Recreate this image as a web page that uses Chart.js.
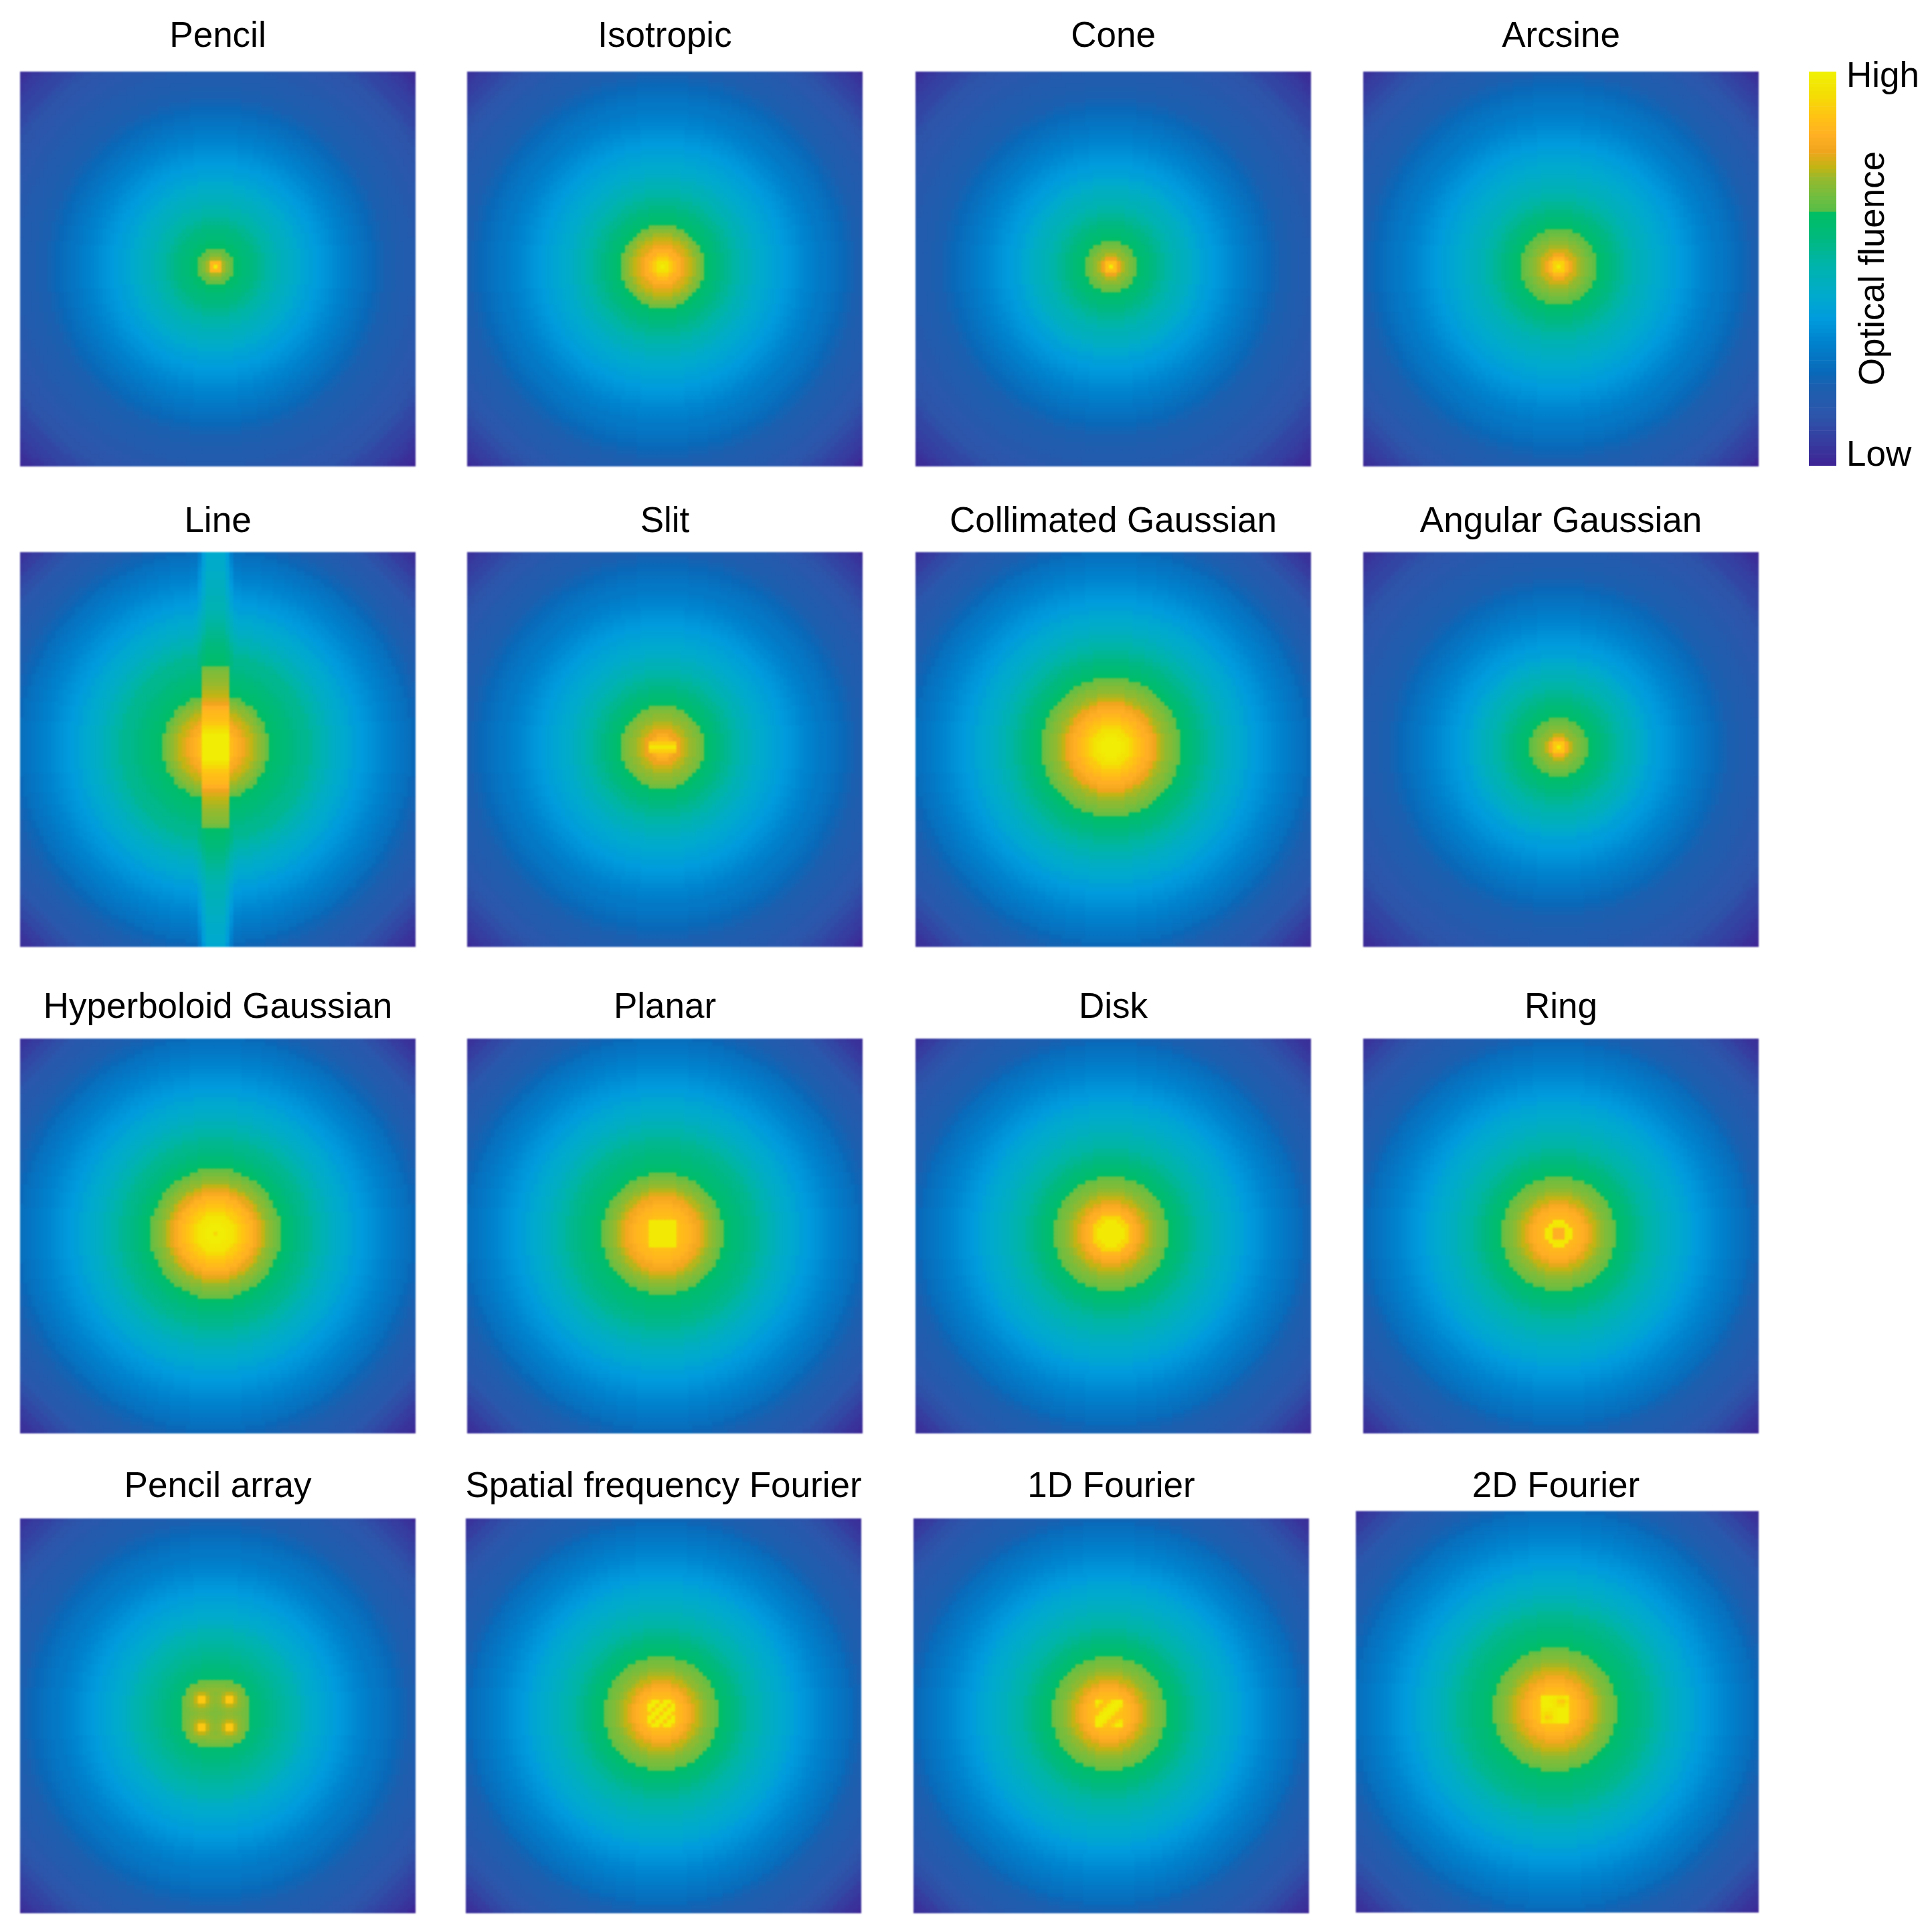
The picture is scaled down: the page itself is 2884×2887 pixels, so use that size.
<!DOCTYPE html>
<html lang="en">
<head>
  <meta charset="UTF-8">
  <title>Optical fluence by source type</title>
  <script src="https://cdn.jsdelivr.net/npm/chart.js"></script>
  <style>
    body { margin: 0; background: #fff; overflow: hidden; }
    canvas { position: absolute; }
    canvas.panel { filter: blur(1.2px); }
    .label {
      position: absolute; transform: translate(-50%, -50%);
      font: 53px/1 "Liberation Sans", Arial, sans-serif; color: #000; white-space: nowrap;
    }
    #fluence { left: 2796px; top: 401px; transform: translate(-50%, -50%) rotate(-90deg); }
  </style>
</head>
<body>
  <div id="fluence" class="label">Optical fluence</div>
  <script>
    const titles = ["Pencil", "Isotropic", "Cone", "Arcsine",
      "Line", "Slit", "Collimated Gaussian", "Angular Gaussian",
      "Hyperboloid Gaussian", "Planar", "Disk", "Ring",
      "Pencil array", "Spatial frequency Fourier", "1D Fourier", "2D Fourier"];
    const colorbarTicks = ["High", "Low"];

    // colour bar: position in % and colour there
    const cmapPos = [0, 12, 20, 23, 31, 37, 43, 51, 58, 64, 65, 68, 73, 76, 80, 84, 89, 94, 100];
    const cmapHex = ["#3e2696", "#2d55aa", "#1b60b0", "#0a68b8", "#0082cd", "#009bdc", "#00aacd", "#00b4aa", "#00b97d",
      "#00be64", "#5abe46", "#6ebe41", "#96b92d", "#c3b414", "#f0a51e", "#ffaf23", "#ffc314", "#f5dc05", "#f0f005"];

    // fluence in % by distance from the source, one value per ring (rings 0-23)
    const ringPencil = [99, 86, 74, 70, 67, 63, 62, 60, 59, 58, 57, 55, 54, 52, 51, 50, 48, 47, 46, 45, 44, 43, 41, 40];
    const ringIsotropic = [99, 96, 91, 87, 84, 81, 78, 76, 74, 71, 68, 63, 61, 60, 58, 57, 55, 54, 52, 51, 49, 48, 47, 45];
    const ringCone = [99, 88, 80, 75, 72, 69, 67, 63, 61, 60, 58, 57, 55, 54, 52, 51, 49, 48, 47, 46, 45, 43, 42, 40];
    const ringArcsine = [99, 92, 86, 81, 77, 74, 72, 70, 68, 66, 63, 61, 60, 58, 57, 55, 54, 52, 51, 49, 48, 47, 46, 45];
    const ringLine = [92, 91, 90, 89, 87, 85, 83, 81, 78, 76, 74, 72, 70, 67, 63, 62, 61, 60, 59, 58, 57, 56, 55, 55];
    const ringSlit = [90, 88, 86, 83, 80, 77, 75, 73, 72, 70, 68, 63, 61, 60, 58, 57, 55, 54, 52, 51, 49, 48, 47, 45];
    const ringCollimated = [99, 99, 99, 98, 96, 93, 90, 88, 86, 84, 82, 80, 76, 74, 72, 71, 69, 67, 63, 61, 60, 58, 57, 55];
    const ringAngular = [99, 90, 82, 76, 72, 70, 68, 66, 63, 61, 60, 58, 57, 55, 54, 52, 51, 49, 48, 47, 45, 44, 42, 40];
    const ringHyperboloid = [93, 99, 99, 98, 97, 94, 91, 89, 87, 85, 82, 79, 76, 73, 71, 69, 67, 63, 61, 60, 58, 57, 56, 55];
    const ringPlanar = [90, 90, 90, 89, 88, 87, 86, 85, 83, 81, 78, 75, 73, 71, 69, 67, 63, 61, 60, 59, 58, 57, 56, 55];
    const ringDisk = [98, 98, 98, 98, 93, 86, 84, 82, 79, 76, 74, 72, 70, 69, 67, 63, 61, 60, 58, 57, 55, 54, 52, 51];
    const ringRing = [84, 84, 97, 98, 86, 85, 84, 82, 79, 76, 74, 72, 70, 69, 67, 63, 61, 60, 58, 57, 55, 54, 52, 51];
    const ringPencilArray = [63, 63, 63, 63, 63, 63, 63, 62, 62, 61, 60, 59, 58, 57, 56, 55, 54, 53, 52, 51, 50, 49, 47, 45];
    const ringSpatial = [90, 90, 89, 88, 87, 86, 84, 82, 79, 76, 74, 72, 70, 69, 67, 63, 61, 60, 58, 57, 55, 54, 52, 51];
    const ring2D = [90, 90, 89, 89, 88, 87, 85, 83, 81, 78, 76, 74, 72, 70, 69, 67, 63, 61, 60, 59, 58, 57, 56, 55];

    // rings 24-71, four families depending on how much light the source puts in
    const outerLow = [39, 38, 37, 36, 35, 34, 33, 32, 31, 30, 29, 28, 27, 26, 25, 24, 23, 22, 21, 20, 20, 19, 18, 18, 17, 17,
      16, 15, 15, 14, 14, 13, 13, 12, 12, 11, 10, 9, 8, 8, 7, 6, 5, 4, 3, 2, 1, 0];
    const outerMid = [44, 43, 42, 41, 40, 39, 38, 37, 36, 35, 34, 33, 32, 31, 30, 29, 28, 28, 27, 26, 25, 24, 23, 22, 21, 20,
      19, 18, 18, 17, 16, 16, 15, 14, 14, 13, 12, 11, 10, 9, 8, 7, 6, 5, 4, 3, 1, 0];
    const outerUpper = [50, 49, 47, 46, 45, 44, 43, 42, 41, 40, 38, 37, 36, 35, 34, 33, 32, 31, 30, 29, 28, 27, 26, 25, 24, 22,
      21, 20, 19, 18, 18, 17, 16, 15, 15, 14, 13, 12, 11, 10, 9, 8, 6, 5, 4, 3, 2, 1];
    const outerHigh = [54, 52, 51, 49, 48, 46, 45, 44, 43, 42, 41, 39, 38, 37, 36, 35, 34, 33, 32, 31, 30, 29, 28, 27, 26, 25,
      23, 22, 21, 20, 19, 18, 17, 16, 15, 15, 14, 13, 11, 10, 9, 8, 6, 5, 4, 3, 2, 1];

    const panelRings = [ringPencil, ringIsotropic, ringCone, ringArcsine,
      ringLine, ringSlit, ringCollimated, ringAngular,
      ringHyperboloid, ringPlanar, ringDisk, ringRing,
      ringPencilArray, ringSpatial, ringSpatial, ring2D];
    const panelOuters = [outerLow, outerMid, outerLow, outerMid,
      outerHigh, outerMid, outerHigh, outerLow,
      outerHigh, outerHigh, outerUpper, outerUpper,
      outerMid, outerUpper, outerUpper, outerHigh];

    // Line source: values along the vertical stripe, by distance from centre
    const lineStripe = [99, 99, 99, 99, 96, 93, 90, 88, 87, 86, 84, 80, 78, 76, 75, 74, 73, 72, 71, 70, 68, 63, 62, 61, 60, 59,
      58, 57, 56, 55, 54, 53, 52, 51, 50, 49, 49, 48, 48, 47, 47, 46, 46, 45, 45, 44, 44, 44, 43, 43, 42];
    // how strong the stripe still is across its width, away from the core
    const stripeAcross = [1, 1, 1, 0.7, 0.3];
    const stripeCore = 21;

    // central cells that are not radial, % values, 0 = leave the ring value
    const cellsSlit = [
      [91, 91, 91, 91, 91, 91, 91],
      [97, 97, 97, 97, 97, 97, 97],
      [91, 91, 91, 91, 91, 91, 91]];
    const cellsPlanar = [
      [98, 98, 98, 98, 98, 98, 98],
      [98, 98, 98, 98, 98, 98, 98],
      [98, 98, 98, 98, 98, 98, 98],
      [98, 98, 98, 98, 98, 98, 98],
      [98, 98, 98, 98, 98, 98, 98],
      [98, 98, 98, 98, 98, 98, 98],
      [98, 98, 98, 98, 98, 98, 98]];
    const cellsSpatial = [
      [90, 99, 99, 90, 99, 99, 90],
      [99, 99, 90, 99, 99, 90, 99],
      [99, 90, 99, 99, 90, 99, 99],
      [90, 99, 99, 90, 99, 99, 90],
      [99, 99, 90, 99, 99, 90, 99],
      [99, 90, 99, 99, 90, 99, 99],
      [90, 99, 99, 90, 99, 99, 90]];
    const cells1D = [
      [99, 95, 88, 90, 97, 99, 99],
      [95, 88, 90, 97, 99, 99, 97],
      [88, 90, 97, 99, 99, 97, 90],
      [88, 97, 99, 99, 97, 90, 88],
      [97, 99, 99, 97, 90, 88, 88],
      [99, 99, 97, 90, 88, 92, 96],
      [99, 97, 90, 88, 92, 99, 99]];
    const cells2D = [
      [99, 99, 99, 98, 96, 96, 98],
      [99, 99, 98, 97, 91, 90, 95],
      [99, 99, 99, 97, 95, 94, 98],
      [98, 98, 97, 98, 99, 99, 99],
      [96, 94, 95, 98, 99, 99, 99],
      [95, 90, 92, 98, 99, 99, 99],
      [97, 95, 96, 98, 99, 99, 99]];
    const cellsPencilArray = [
      [0, 0, 0, 0, 68, 68, 68, 68, 68, 68, 68, 68, 68, 0, 0, 0, 0],
      [0, 0, 69, 69, 69, 69, 70, 70, 70, 70, 70, 69, 69, 69, 69, 0, 0],
      [0, 69, 70, 71, 72, 72, 72, 72, 72, 72, 72, 72, 72, 71, 70, 69, 0],
      [0, 69, 71, 74, 76, 76, 74, 72, 71, 72, 74, 76, 76, 74, 71, 69, 0],
      [68, 70, 72, 76, 90, 90, 76, 73, 72, 73, 76, 90, 90, 76, 72, 70, 68],
      [68, 70, 72, 76, 90, 90, 76, 73, 72, 73, 76, 90, 90, 76, 72, 70, 68],
      [68, 70, 72, 74, 76, 76, 74, 72, 71, 72, 74, 76, 76, 74, 72, 70, 68],
      [68, 69, 71, 72, 73, 73, 72, 71, 70, 71, 72, 73, 73, 72, 71, 69, 68],
      [68, 69, 70, 71, 72, 72, 71, 70, 70, 70, 71, 72, 72, 71, 70, 69, 68],
      [68, 69, 71, 72, 73, 73, 72, 71, 70, 71, 72, 73, 73, 72, 71, 69, 68],
      [68, 70, 72, 74, 76, 76, 74, 72, 71, 72, 74, 76, 76, 74, 72, 70, 68],
      [68, 70, 72, 76, 90, 90, 76, 73, 72, 73, 76, 90, 90, 76, 72, 70, 68],
      [68, 70, 72, 76, 90, 90, 76, 73, 72, 73, 76, 90, 90, 76, 72, 70, 68],
      [0, 69, 71, 74, 76, 76, 74, 72, 71, 72, 74, 76, 76, 74, 71, 69, 0],
      [0, 69, 70, 71, 72, 72, 72, 72, 72, 72, 72, 72, 72, 71, 70, 69, 0],
      [0, 0, 69, 69, 69, 69, 70, 70, 70, 70, 70, 69, 69, 69, 69, 0, 0],
      [0, 0, 0, 0, 68, 68, 68, 68, 68, 68, 68, 68, 68, 0, 0, 0, 0]];
    const panelCells = { 5: cellsSlit, 9: cellsPlanar, 12: cellsPencilArray, 13: cellsSpatial, 14: cells1D, 15: cells2D };

    // panel boxes in page pixels, the bottom row does not quite line up in the original
    const colLeft = [30, 698, 1368, 2037];
    const rowTop = [107, 825, 1552, 2269];
    const titleY = [51, 776, 1502, 2218];
    const GRID = 100, CENTRE = 49;

    function hexRgb(h) {
      return [1, 3, 5].map(i => parseInt(h.substr(i, 2), 16));
    }
    const lut = [];
    for (let v = 0; v <= 100; v++) {
      let k = 0;
      while (k < cmapPos.length - 2 && cmapPos[k + 1] < v) k++;
      const t = (v - cmapPos[k]) / (cmapPos[k + 1] - cmapPos[k]);
      const a = hexRgb(cmapHex[k]), b = hexRgb(cmapHex[k + 1]);
      lut.push("rgb(" + a.map((c, i) => Math.round(c + (b[i] - c) * t)).join(",") + ")");
    }

    function cellValue(p, dx, dy) {
      const r = Math.round(Math.hypot(dx, dy));
      let v = r < 24 ? panelRings[p][r] : panelOuters[p][r - 24];
      if (titles[p] === "Line" && Math.abs(dx) < stripeAcross.length) {
        const s = lineStripe[Math.abs(dy)];
        const k = Math.abs(dy) < stripeCore ? (Math.abs(dx) <= 3 ? 1 : 0) : stripeAcross[Math.abs(dx)];
        if (s > v) v = Math.round(v + (s - v) * k);
      }
      const cells = panelCells[p];
      if (cells) {
        const row = cells[dy + (cells.length - 1) / 2];
        if (row && row[dx + (row.length - 1) / 2]) v = row[dx + (row.length - 1) / 2];
      }
      return v;
    }

    function drawPanel(p) {
      const rowIdx = Math.floor(p / 4);
      let left = colLeft[p % 4], top = rowTop[rowIdx], w = 591, h = 590;
      if (p === 13) left = 696;
      if (p === 14) left = 1365;
      if (p === 15) { left = 2026; w = 602; top = 2258; h = 600; }

      const points = [], colors = [];
      for (let row = 0; row < GRID; row++) {
        for (let col = 0; col < GRID; col++) {
          points.push({ x: col, y: row });
          colors.push(lut[cellValue(p, col - CENTRE, row - CENTRE)]);
        }
      }

      const title = document.createElement("div");
      title.className = "label";
      title.textContent = titles[p];
      title.style.left = (left + w / 2 - (p === 15 ? 2 : 0)) + "px";
      title.style.top = titleY[rowIdx] + "px";
      document.body.appendChild(title);

      const canvas = document.createElement("canvas");
      canvas.className = "panel";
      canvas.width = w;
      canvas.height = h;
      canvas.style.left = left + "px";
      canvas.style.top = top + "px";
      document.body.appendChild(canvas);

      new Chart(canvas, {
        type: "scatter",
        data: {
          datasets: [{
            data: points,
            pointStyle: "rect",
            pointRadius: (w / GRID + 1) * Math.SQRT1_2,
            pointBorderWidth: 0,
            pointBackgroundColor: colors,
            clip: 0
          }]
        },
        options: {
          responsive: false,
          animation: false,
          parsing: false,
          normalized: true,
          events: [],
          layout: { autoPadding: false },
          scales: {
            x: { display: false, min: -0.5, max: GRID - 0.5 },
            y: { display: false, min: -0.5, max: GRID - 0.5, reverse: true }
          },
          plugins: { legend: { display: false }, tooltip: { enabled: false } }
        }
      });
    }

    titles.forEach((t, p) => drawPanel(p));

    // colour bar: one thin bar per % level, top of the bar is 100
    const barLevels = lut.map((c, i) => 100 - i);
    const barCanvas = document.createElement("canvas");
    barCanvas.width = 181;
    barCanvas.height = 640;
    barCanvas.style.left = "2703px";
    barCanvas.style.top = "80px";
    document.body.appendChild(barCanvas);
    new Chart(barCanvas, {
      type: "bar",
      data: {
        labels: barLevels,
        datasets: [{
          data: barLevels.map(() => 1),
          backgroundColor: barLevels.map(v => lut[v]),
          barPercentage: 1,
          categoryPercentage: 1
        }]
      },
      options: {
        indexAxis: "y",
        responsive: false,
        animation: false,
        events: [],
        layout: { autoPadding: false, padding: { top: 27, bottom: 24 } },
        scales: {
          x: { display: false, min: 0, max: 1 },
          y: {
            position: "right",
            afterFit: s => { s.width = 140; s.paddingTop = 0; s.paddingBottom = 0; },
            grid: { display: false, drawTicks: false },
            border: { display: false },
            ticks: {
              autoSkip: false,
              padding: 15,
              color: "#000",
              font: { family: '"Liberation Sans", Arial, sans-serif', size: 53 },
              callback: (val, i) => i === 1 ? colorbarTicks[0] : i === 98 ? colorbarTicks[1] : ""
            }
          }
        },
        plugins: { legend: { display: false }, tooltip: { enabled: false } }
      }
    });
  </script>
</body>
</html>
